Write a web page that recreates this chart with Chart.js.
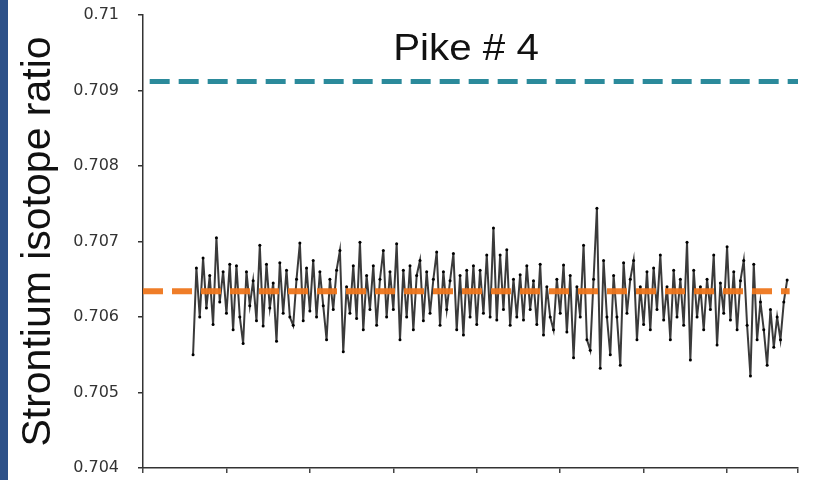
<!DOCTYPE html>
<html lang="en">

<head>
    <meta charset="UTF-8" />
    <title>Pike # 4</title>
    <script src="https://cdn.jsdelivr.net/npm/chart.js@4.4.1/dist/chart.umd.min.js"></script>
    <style>
        body {
            margin: 0;
            background: #fff;
        }

        #wrap {
            position: relative;
            width: 813px;
            height: 480px;
        }

        #strip {
            position: absolute;
            left: 0;
            top: 0;
            width: 8px;
            height: 480px;
            background: #2d5189;
        }
    </style>
</head>

<body>
    <div id="wrap">
        <div id="strip"></div>
        <canvas id="chart" width="813" height="480"></canvas>
    </div>

    <script>
        // Sr ratio readings, one every 4 samples from sample 60 on
        const firstSample = 60;
        const sampleStep = 4;
        const ratio = [
            0.70550, 0.70665, 0.70600, 0.70678, 0.70612, 0.70655, 0.70590, 0.70705, 0.70620, 0.70660,
            0.70605, 0.70670, 0.70583, 0.70668, 0.70600, 0.70565, 0.70660, 0.70615, 0.70648, 0.70595,
            0.70695, 0.70588, 0.70670, 0.70612, 0.70645, 0.70568, 0.70672, 0.70605, 0.70662, 0.70600,
            0.70589, 0.70650, 0.70698, 0.70595, 0.70665, 0.70608, 0.70675, 0.70600, 0.70660, 0.70615,
            0.70570, 0.70650, 0.70610, 0.70662, 0.70688, 0.70554, 0.70640, 0.70605, 0.70668, 0.70598,
            0.70699, 0.70583, 0.70655, 0.70610, 0.70668, 0.70589, 0.70650, 0.70688, 0.70600, 0.70660,
            0.70610, 0.70697, 0.70570, 0.70662, 0.70600, 0.70668, 0.70583, 0.70655, 0.70675, 0.70595,
            0.70660, 0.70605, 0.70650, 0.70686, 0.70589, 0.70660, 0.70610, 0.70648, 0.70684, 0.70583,
            0.70655, 0.70576, 0.70662, 0.70600, 0.70668, 0.70590, 0.70662, 0.70605, 0.70682, 0.70600,
            0.70718, 0.70596, 0.70682, 0.70610, 0.70689, 0.70589, 0.70650, 0.70600, 0.70656, 0.70596,
            0.70668, 0.70610, 0.70648, 0.70590, 0.70670, 0.70576, 0.70640, 0.70600, 0.70583, 0.70650,
            0.70605, 0.70669, 0.70580, 0.70655, 0.70546, 0.70640, 0.70600, 0.70695, 0.70570, 0.70556,
            0.70650, 0.70744, 0.70532, 0.70675, 0.70600, 0.70550, 0.70655, 0.70600, 0.70536, 0.70672,
            0.70605, 0.70650, 0.70675, 0.70570, 0.70640, 0.70590, 0.70660, 0.70583, 0.70665, 0.70610,
            0.70682, 0.70596, 0.70640, 0.70570, 0.70662, 0.70600, 0.70650, 0.70589, 0.70699, 0.70543,
            0.70662, 0.70600, 0.70640, 0.70583, 0.70650, 0.70610, 0.70682, 0.70563, 0.70645, 0.70605,
            0.70693, 0.70596, 0.70660, 0.70583, 0.70648, 0.70675, 0.70589, 0.70522, 0.70670, 0.70570,
            0.70620, 0.70583, 0.70536, 0.70610, 0.70560, 0.70600, 0.70570, 0.70620, 0.70649
        ];

        // reference levels
        const meanRatio = 0.70634;      // orange, fish average
        const seawaterRatio = 0.70912;  // teal, seawater
        const meanSpan = [0, 775];
        const seawaterSpan = [8, 785];

        const yTicks = { min: 0.704, max: 0.71, step: 0.001 };
        const xRange = { min: 0, max: 785, step: 100 };

        const titleText = 'Pike # 4';
        const yTitle = 'Strontium isotope ratio';

        const series = ratio.map((v, i) => ({ x: firstSample + i * sampleStep, y: v }));

        const titlePlugin = {
            id: 'pikeTitle',
            afterDraw(chart) {
                const ctx = chart.ctx;
                ctx.save();
                ctx.font = '36px "Liberation Sans", Arial, sans-serif';
                ctx.fillStyle = '#111';
                ctx.textAlign = 'center';
                ctx.textBaseline = 'alphabetic';
                ctx.translate(466, 60);
                ctx.scale(1.12, 1);
                ctx.fillText(titleText, 0, 0);
                ctx.restore();
            }
        };

        const ctx = document.getElementById('chart').getContext('2d');
        const myChart = new Chart(ctx, {
            type: 'line',
            data: {
                datasets: [
                    {
                        label: 'mean',
                        data: meanSpan.map(x => ({ x: x, y: meanRatio })),
                        borderColor: 'rgba(238, 118, 28, 0.95)',
                        borderWidth: 6,
                        borderDash: [20, 9],
                        pointRadius: 0,
                        order: 0
                    },
                    {
                        label: 'seawater',
                        data: seawaterSpan.map(x => ({ x: x, y: seawaterRatio })),
                        borderColor: '#2b8a9b',
                        borderWidth: 5,
                        borderDash: [20, 9],
                        pointRadius: 0,
                        order: 1
                    },
                    {
                        label: 'Pike # 4',
                        data: series,
                        borderColor: '#3a3a3a',
                        borderWidth: 2,
                        pointRadius: 1.5,
                        pointBackgroundColor: '#000',
                        pointBorderWidth: 0,
                        tension: 0,
                        order: 2
                    }
                ]
            },
            options: {
                responsive: false,
                animation: false,
                layout: { padding: { left: 8, right: 15, top: 15, bottom: 0 } },
                plugins: {
                    legend: { display: false },
                    tooltip: { enabled: false }
                },
                scales: {
                    x: {
                        type: 'linear',
                        min: xRange.min,
                        max: xRange.max,
                        ticks: { display: false, stepSize: xRange.step },
                        grid: { drawOnChartArea: false, tickLength: 5, color: '#444', lineWidth: 1.5 },
                        border: { color: '#333', width: 1.5 },
                        afterFit(scale) { scale.height = 12; }
                    },
                    y: {
                        min: yTicks.min,
                        max: yTicks.max,
                        ticks: {
                            stepSize: yTicks.step,
                            padding: 19,
                            color: '#333',
                            font: { family: '"DejaVu Sans", sans-serif', size: 16 },
                            callback: v => String(parseFloat(v.toFixed(3)))
                        },
                        grid: { drawOnChartArea: false, tickLength: 5, color: '#333', lineWidth: 1.5 },
                        border: { color: '#333', width: 1.5 },
                        title: {
                            display: true,
                            text: yTitle,
                            color: '#111',
                            padding: { top: 6, bottom: 0 },
                            font: { family: '"Liberation Sans", Arial, sans-serif', size: 41 }
                        },
                        afterFit(scale) {
                            scale.width = 135;
                            scale.paddingTop = 0;
                            scale.paddingBottom = 0;
                        }
                    }
                }
            },
            plugins: [titlePlugin]
        });
    </script>
</body>

</html>
